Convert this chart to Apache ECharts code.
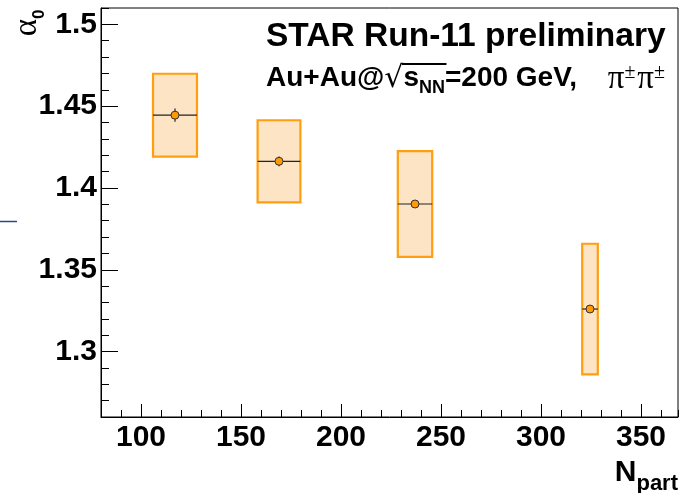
<!DOCTYPE html>
<html>
<head>
<meta charset="utf-8">
<script src="https://cdn.jsdelivr.net/npm/echarts@6/dist/echarts.min.js"></script>
<style>
  html, body { margin: 0; padding: 0; background: #fff; }
  #chart { width: 681px; height: 493px; }
</style>
</head>
<body>
<div id="chart"></div>
<script>
// Centrality bins: mean N_part and half-width of the N_part uncertainty
const npart = [117, 169, 237, 324.5];
const npartErr = [11, 10.7, 8.6, 3.9];
// Lévy index alpha_0 with statistical and systematic uncertainties
const alpha0 = [1.4445, 1.4163, 1.3902, 1.326];
const statErr = [0.004, 0.003, 0.002, 0.002];
const sysErr = [0.0253, 0.0251, 0.0323, 0.0399];
// Labelled axis ticks
const xTickLabels = [100, 150, 200, 250, 300, 350];
const yTickLabels = [1.3, 1.35, 1.4, 1.45, 1.5];

const X_MIN = 80, X_MAX = 368.5;
const Y_MIN = 1.26, Y_MAX = 1.51;

const labelFont = { fontFamily: 'Liberation Sans', fontWeight: 'bold', fontSize: 30, color: '#000' };

const points = npart.map((x, i) => [x, npartErr[i], alpha0[i], sysErr[i], statErr[i]]);

// text measurement for placing the square-root overbar
const measureCtx = document.createElement('canvas').getContext('2d');
function textWidth(str, font) { measureCtx.font = font; return measureCtx.measureText(str).width; }

const L2 = {
  main: 'bold 28px "Liberation Sans"',
  root: '30px "DejaVu Sans"',
  sub: 'bold 18px "Liberation Sans"',
  greek: '33px "Liberation Serif"',
  sup: '20px "Liberation Serif"'
};
const L2_LEFT = 266, L2_Y = 79;
const wPre = textWidth('Au+Au@', L2.main);
const wRoot = textWidth('√', L2.root);
const wS = textWidth('s', L2.main);
const wNN = textWidth('NN', L2.sub);
const barX1 = L2_LEFT + wPre + wRoot - 1.5;
const barX2 = barX1 + wS + wNN + 3;

const chart = echarts.init(document.getElementById('chart'), null, { renderer: 'canvas' });

chart.setOption({
  animation: false,
  backgroundColor: '#fff',
  grid: {
    left: 101, right: 3, top: 8, bottom: 76,
    show: true, borderColor: '#000', borderWidth: 1, backgroundColor: 'transparent'
  },
  xAxis: [
    {
      type: 'value', min: X_MIN, max: X_MAX, position: 'bottom',
      splitLine: { show: false },
      axisLine: { show: true, onZero: false, lineStyle: { color: '#000', width: 1 } },
      axisTick: { show: true, inside: true, length: 13, customValues: xTickLabels, lineStyle: { color: '#000' } },
      axisLabel: Object.assign({ margin: 6, customValues: xTickLabels }, labelFont)
    },
    {
      // minor ticks every 10 units
      type: 'value', min: X_MIN, max: X_MAX, interval: 10, position: 'bottom',
      splitLine: { show: false },
      axisLine: { show: false, onZero: false },
      axisTick: { show: true, inside: true, length: 7, lineStyle: { color: '#000' } },
      axisLabel: { show: false }
    }
  ],
  yAxis: [
    {
      type: 'value', min: Y_MIN, max: Y_MAX, position: 'left',
      splitLine: { show: false },
      axisLine: { show: true, onZero: false, lineStyle: { color: '#000', width: 1 } },
      axisTick: { show: true, inside: true, length: 17, customValues: yTickLabels, lineStyle: { color: '#000' } },
      axisLabel: Object.assign({ margin: 4, customValues: yTickLabels }, labelFont)
    },
    {
      // minor ticks every 0.01
      type: 'value', min: Y_MIN, max: Y_MAX, interval: 0.01, position: 'left',
      splitLine: { show: false },
      axisLine: { show: false, onZero: false },
      axisTick: { show: true, inside: true, length: 8, lineStyle: { color: '#000' } },
      axisLabel: { show: false }
    }
  ],
  series: [
    {
      // systematic uncertainty boxes
      type: 'custom',
      xAxisIndex: 0, yAxisIndex: 0,
      encode: { x: 0, y: 2 },
      data: points,
      z: 2,
      renderItem: function (params, api) {
        const x = api.value(0), dx = api.value(1), y = api.value(2), dy = api.value(3);
        const p1 = api.coord([x - dx, y + dy]);
        const p2 = api.coord([x + dx, y - dy]);
        return {
          type: 'rect',
          shape: { x: p1[0], y: p1[1], width: p2[0] - p1[0], height: p2[1] - p1[1] },
          style: { fill: '#fde4c4', stroke: '#ff9f0f', lineWidth: 2.2 }
        };
      }
    },
    {
      // N_part bar and statistical error bar
      type: 'custom',
      xAxisIndex: 0, yAxisIndex: 0,
      encode: { x: 0, y: 2 },
      data: points,
      z: 3,
      renderItem: function (params, api) {
        const x = api.value(0), dx = api.value(1), y = api.value(2), st = api.value(4);
        const l = api.coord([x - dx, y]);
        const r = api.coord([x + dx, y]);
        const t = api.coord([x, y + st]);
        const b = api.coord([x, y - st]);
        const style = { stroke: '#222', lineWidth: 1.2 };
        return {
          type: 'group',
          children: [
            { type: 'line', shape: { x1: l[0], y1: l[1], x2: r[0], y2: r[1] }, style: style },
            { type: 'line', shape: { x1: t[0], y1: t[1], x2: b[0], y2: b[1] }, style: style }
          ]
        };
      }
    },
    {
      type: 'scatter',
      xAxisIndex: 0, yAxisIndex: 0,
      data: npart.map((x, i) => [x, alpha0[i]]),
      symbol: 'circle',
      symbolSize: 8,
      z: 4,
      itemStyle: { color: '#ff9a00', borderColor: '#333', borderWidth: 1, opacity: 1 }
    }
  ],
  graphic: [
    {
      type: 'text', x: 27, y: 23, rotation: Math.PI / 2,
      style: {
        text: '{a|α}{s|0}',
        align: 'center', verticalAlign: 'middle',
        rich: {
          a: { fontFamily: 'Liberation Serif', fontSize: 33, lineHeight: 32, verticalAlign: 'top', fill: '#000' },
          s: { fontFamily: 'Liberation Sans', fontWeight: 'bold', fontSize: 17, lineHeight: 17, padding: [20, 0, 0, 0], verticalAlign: 'top', fill: '#000' }
        }
      }
    },
    {
      type: 'text', x: 678, y: 488,
      style: {
        text: '{n|N}{p|part}',
        align: 'right', verticalAlign: 'bottom',
        rich: {
          n: { fontFamily: 'Liberation Sans', fontWeight: 'bold', fontSize: 30, lineHeight: 30, verticalAlign: 'top', fill: '#000' },
          p: { fontFamily: 'Liberation Sans', fontWeight: 'bold', fontSize: 22, lineHeight: 22, padding: [15, 0, 0, 0], verticalAlign: 'top', fill: '#000' }
        }
      }
    },
    {
      type: 'text', x: 266, y: 37,
      style: {
        text: 'STAR Run-11 preliminary',
        align: 'left', verticalAlign: 'middle',
        fontFamily: 'Liberation Sans', fontWeight: 'bold', fontSize: 33.5, fill: '#000'
      }
    },
    {
      type: 'text', x: L2_LEFT, y: L2_Y,
      style: {
        text: '{m|Au+Au@}{r|√}{m|s}{sb|NN}{m|=200 GeV,}',
        align: 'left', verticalAlign: 'middle',
        rich: {
          m: { font: L2.main, lineHeight: 30, verticalAlign: 'top', fill: '#000' },
          r: { font: L2.root, lineHeight: 30, verticalAlign: 'top', fill: '#000' },
          sb: { font: L2.sub, lineHeight: 18, padding: [15, 0, 0, 0], verticalAlign: 'top', fill: '#000' }
        }
      }
    },
    {
      type: 'text', x: 665, y: L2_Y,
      style: {
        text: '{g|π}{sp|±}{g|π}{sp|±}',
        align: 'right', verticalAlign: 'middle',
        rich: {
          g: { font: L2.greek, lineHeight: 32, padding: [0, 0, 0, 2], verticalAlign: 'top', fill: '#000' },
          sp: { font: L2.sup, lineHeight: 20, verticalAlign: 'top', fill: '#000' }
        }
      }
    },
    {
      // overbar of the square root
      type: 'line',
      shape: { x1: barX1, y1: L2_Y - 15, x2: barX2, y2: L2_Y - 15 },
      style: { stroke: '#000', lineWidth: 2 }
    },
    {
      type: 'line',
      shape: { x1: 0, y1: 221.5, x2: 17, y2: 221.5 },
      style: { stroke: '#2b4a86', lineWidth: 1.5 }
    }
  ]
});
</script>
</body>
</html>
